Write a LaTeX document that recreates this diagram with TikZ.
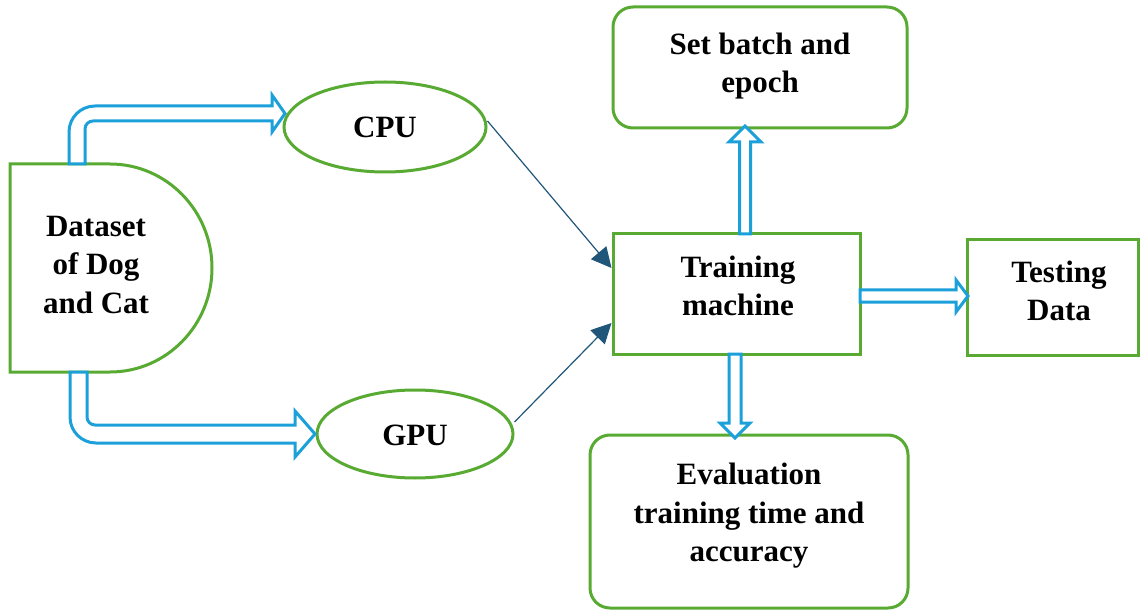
\documentclass[tikz,border=0pt]{standalone}
\usepackage{fontspec}
\setmainfont{Liberation Serif}
\usetikzlibrary{shapes.geometric,arrows.meta,calc}
\definecolor{gr}{RGB}{88,170,50}
\definecolor{bl}{RGB}{28,160,218}
\definecolor{dk}{RGB}{31,86,122}
\begin{document}
\begin{tikzpicture}[x=1pt,y=-1pt,
  txt/.style={font=\fontsize{31}{38.5}\selectfont\bfseries, align=center, inner sep=0pt},
  boxr/.style={draw=gr, line width=3pt, rounded corners=20pt, inner sep=0pt},
  boxs/.style={draw=gr, line width=3pt, inner sep=0pt},
  ell/.style={draw=gr, line width=3pt, ellipse, inner sep=0pt},
  fat/.style={draw=bl, line width=3pt, fill=white, line join=miter},
  thinar/.style={draw=dk, line width=1.2pt, -{Triangle[length=20pt,width=20pt]}}]
\useasboundingbox (0,0) rectangle (1140,612);
% dataset shape
\draw[draw=gr, line width=3pt] (10,164) -- (110,164) .. controls (166.3,164) and (212,210.6) .. (212,268)
  .. controls (212,325.4) and (166.3,372) .. (110,372) -- (10,372) -- cycle;
\node[txt] (ds) at (96,265) {Dataset\\of Dog\\and Cat};
% ellipses
\node[ell, minimum width=202pt, minimum height=90pt] (cpu) at (385,127) {};
\node[txt] (cput) at (385,127) {CPU};
\node[ell, minimum width=196pt, minimum height=88pt] (gpu) at (415,434) {};
\node[txt] (gput) at (415,435) {GPU};
% boxes
\node[boxr, minimum width=294pt, minimum height=121pt] (sb) at (760,67.5) {};
\node[txt] (sbt) at (760,66) {Set batch and\\epoch};
\node[boxs, minimum width=247pt, minimum height=120pt] (tm) at (736.5,294) {};
\node[txt] (tmt) at (738,286) {Training\\machine};
\node[boxs, minimum width=171pt, minimum height=115pt] (td) at (1053,297.5) {};
\node[txt] (tdt) at (1059,291) {Testing\\Data};
\node[boxr, minimum width=318pt, minimum height=173pt] (ev) at (749,521.5) {};
\node[txt] (evt) at (749,516) {Evaluation\\training time and\\accuracy};
% thin arrows
\draw[thinar] ([yshift=6pt]cpu.east) -- ([yshift=26pt]tm.west);
\draw[thinar] ([yshift=12pt]gpu.east) -- ([yshift=-29pt]tm.west);
% fat hollow arrows
\draw[fat] (85,164) -- (85,129) .. controls (85,124.6) and (88.6,121) .. (93,121)
  -- (272,121) -- (272,132) -- (285,113.5) -- (272,95) -- (272,106) -- (95,106)
  .. controls (80.6,106) and (69,117.6) .. (69,132) -- (69,164) -- cycle;
\draw[fat] (87,372) -- (87,417) .. controls (87,421.4) and (90.6,425) .. (95,425)
  -- (295,425) -- (295,411) -- (315,434) -- (295,457) -- (295,443) -- (96,443)
  .. controls (81.6,443) and (70,431.4) .. (70,417) -- (70,372) -- cycle;
\draw[fat] (739.5,234) -- (739.5,142) -- (729,142) -- (745,126) -- (761,142) -- (750.5,142) -- (750.5,234) -- cycle;
\draw[fat] (729,354) -- (729,423) -- (720,423) -- (735,438) -- (750,423) -- (741,423) -- (741,354) -- cycle;
\draw[fat] (860,290) -- (956,290) -- (956,280) -- (968,296) -- (956,312) -- (956,302) -- (860,302) -- cycle;
\end{tikzpicture}
\end{document}
